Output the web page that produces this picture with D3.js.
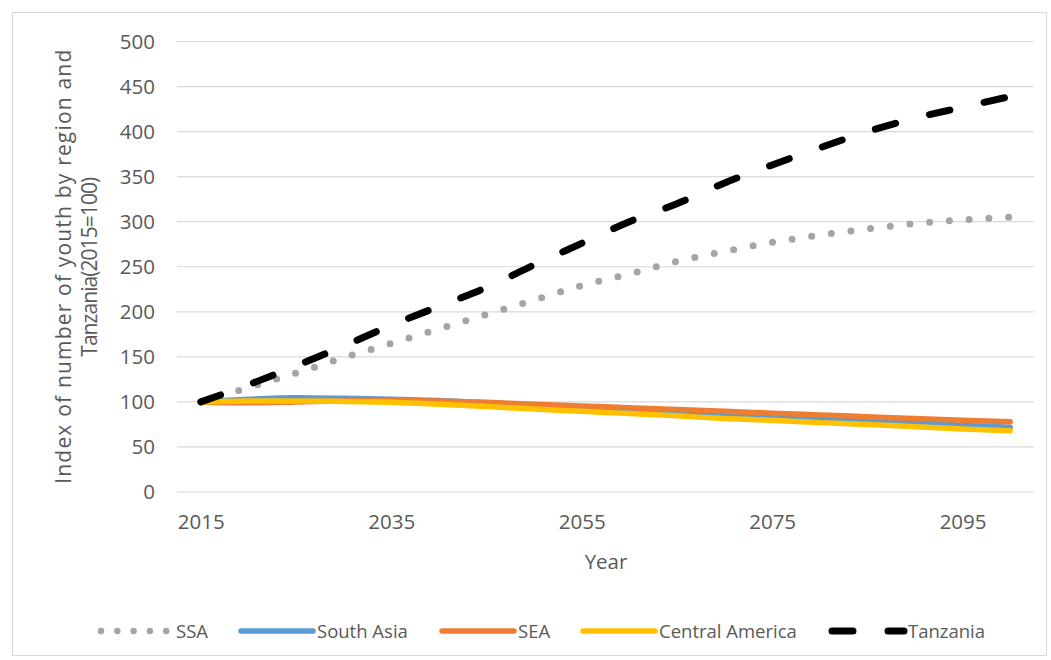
<!DOCTYPE html>
<html>
<head>
<meta charset="utf-8">
<script src="https://cdn.jsdelivr.net/npm/d3@7"></script>
<style>
    body { margin: 0; background: #fff; }
    svg text { font-family: "Open Sans", sans-serif; fill: #595959; }
</style>
</head>
<body>
<svg id="chart" width="1051" height="660"></svg>
<script>
/* ---------- Data ---------- */
const years = [2015, 2020, 2025, 2030, 2035, 2040, 2045, 2050, 2055, 2060,
               2065, 2070, 2075, 2080, 2085, 2090, 2095, 2100];
const yearLabels = [2015, 2035, 2055, 2075, 2095];
const yTicks = [0, 50, 100, 150, 200, 250, 300, 350, 400, 450, 500];

const ssa = [100, 116, 132, 149, 165, 181, 197, 213, 229, 242, 256, 267, 277, 285, 292, 298, 302, 305];
const southAsia = [100, 103, 104.5, 104, 103, 101.5, 99, 96.5, 94, 91.5, 88.5, 85.5, 83, 81, 78.5, 76.5, 74, 72];
const sea = [100, 99, 100, 101, 101.5, 101, 99.5, 97.5, 95.5, 93.5, 91.5, 89.5, 87.5, 85.5, 83.5, 81.5, 79.5, 78];
const centralAmerica = [100, 101, 101, 100.5, 99.5, 97.5, 95, 92, 89.5, 87, 84.5, 81.5, 79.5, 77, 75, 72.5, 70, 68];
const tanzania = [100, 119, 140, 162, 185, 206, 227, 252, 276, 300, 320, 343, 363, 382, 400, 415, 427, 439];

const series = [
    {name: "SSA", values: ssa, color: "#a5a5a5", width: 7, dash: "0 19.8", legendDash: "0 16.3"},
    {name: "South Asia", values: southAsia, color: "#5b9bd5", width: 5.5, dash: null, legendDash: null},
    {name: "SEA", values: sea, color: "#ed7d31", width: 5.5, dash: null, legendDash: null},
    {name: "Central America", values: centralAmerica, color: "#ffc000", width: 5.5, dash: null, legendDash: null},
    {name: "Tanzania", values: tanzania, color: "#000000", width: 7, dash: "21 35", legendDash: "21 35"}
];

/* ---------- Layout ---------- */
const svg = d3.select("#chart");
const plot = {left: 177, right: 1034, top: 41.5, bottom: 492};

svg.append("rect")
    .attr("x", 12.5).attr("y", 12.5)
    .attr("width", 1034).attr("height", 643)
    .attr("fill", "#fff").attr("stroke", "#d9d9d9");

/* ---------- Scales & axes ---------- */
const x = d3.scalePoint().domain(years).range([plot.left, plot.right]).padding(0.5);
const y = d3.scaleLinear().domain([0, 500]).range([plot.bottom, plot.top]);

// gridlines
svg.append("g").selectAll("line")
    .data(yTicks)
    .join("line")
    .attr("x1", plot.left).attr("x2", plot.right)
    .attr("y1", d => y(d)).attr("y2", d => y(d))
    .attr("stroke", "#d9d9d9").attr("stroke-width", 1.2);

const yAxis = svg.append("g")
    .attr("transform", `translate(${plot.left - 14}, 0)`)
    .call(d3.axisLeft(y).tickValues(yTicks).tickSize(0).tickPadding(8));
yAxis.select(".domain").remove();
yAxis.selectAll("text").attr("font-size", 20.5).attr("font-family", null).attr("fill", null);

const xAxis = svg.append("g")
    .attr("transform", `translate(0, ${plot.bottom})`)
    .call(d3.axisBottom(x).tickValues(yearLabels).tickSize(0).tickPadding(22));
xAxis.select(".domain").remove();
xAxis.selectAll("text").attr("font-size", 20.5).attr("font-family", null).attr("fill", null);

// axis titles
svg.append("text")
    .attr("x", 606).attr("y", 569)
    .attr("text-anchor", "middle").attr("font-size", 20.5)
    .text("Year");

const yTitle = svg.append("text")
    .attr("transform", `translate(71, ${(plot.top + plot.bottom) / 2}) rotate(-90)`)
    .attr("text-anchor", "middle").attr("font-size", 21);
yTitle.append("tspan").attr("x", 0).attr("dy", 0)
    .attr("textLength", 434).attr("lengthAdjust", "spacing")
    .text("Index of number of youth by region and");
yTitle.append("tspan").attr("x", 0).attr("dy", 26)
    .attr("textLength", 180).attr("lengthAdjust", "spacing")
    .text("Tanzania(2015=100)");

/* ---------- Lines ---------- */
const line = d3.line()
    .x((d, i) => x(years[i]))
    .y(d => y(d))
    .curve(d3.curveMonotoneX);

svg.append("g").selectAll("path")
    .data(series)
    .join("path")
    .attr("d", s => line(s.values))
    .attr("fill", "none")
    .attr("stroke", s => s.color)
    .attr("stroke-width", s => s.width)
    .attr("stroke-linecap", "round")
    .attr("stroke-linejoin", "round")
    .attr("stroke-dasharray", s => s.dash);

/* ---------- Legend ---------- */
const legendX = [101, 241, 442, 583, 832];
const legendY = 631;
const legend = svg.append("g").selectAll("g")
    .data(series)
    .join("g")
    .attr("transform", (s, i) => `translate(${legendX[i]}, ${legendY})`);

legend.append("line")
    .attr("x1", 0).attr("x2", s => s.name === "SSA" ? 66 : 72)
    .attr("y1", 0).attr("y2", 0)
    .attr("stroke", s => s.color)
    .attr("stroke-width", s => s.name === "SSA" ? 6.5 : s.width)
    .attr("stroke-linecap", "round")
    .attr("stroke-dasharray", s => s.legendDash);

legend.append("text")
    .attr("x", s => s.name === "SSA" ? 75 : 76)
    .attr("y", 6.5)
    .attr("font-size", 18.5)
    .text(s => s.name);
</script>
</body>
</html>
